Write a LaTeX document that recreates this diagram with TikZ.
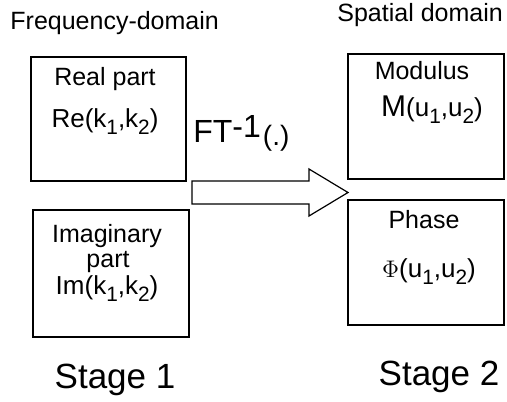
\documentclass[tikz,border=0pt]{standalone}
\usepackage{fontspec}
\usepackage{graphicx}
\setmainfont{Liberation Sans}
\usetikzlibrary{fit}

% lowered, reduced index as in k1, u2
\newcommand\lowsub[1]{\raisebox{-0.28em}{\scalebox{0.8}{#1}}}

\begin{document}
\begin{tikzpicture}[x=0.5pt,y=-0.5pt,
  box/.style={draw=black, line width=0.65pt, inner sep=0pt},
  lbl/.style={anchor=base, inner sep=0pt, font=\fontsize{12.5pt}{14pt}\selectfont},
  expr/.style={anchor=base, inner sep=0pt, font=\fontsize{13pt}{15pt}\selectfont},
  head/.style={inner sep=0pt, font=\fontsize{12.5pt}{15pt}\selectfont},
  stage/.style={anchor=base, inner sep=0pt, font=\fontsize{17.5pt}{20pt}\selectfont}]
\useasboundingbox (0,0) rectangle (507,401);

% section headings
\node[head, anchor=base west] (fdom) at (10,30) {Frequency-domain};
\node[head, anchor=base west] (sdom) at (337,22) {Spatial domain};

% stage 1 boxes
\node[box, fit={(31,57) (186,181)}] (re) {};
\node[box, fit={(33,210) (189,337)}] (im) {};
% stage 2 boxes
\node[box, fit={(348,54) (504,179)}] (mod) {};
\node[box, fit={(348,200) (504,325)}] (ph) {};

% box contents
\node[lbl] (retitle) at (105,85) {Real part};
\node[expr] (reexpr) at (105,127) {Re(k\lowsub{1},k\lowsub{2})};
\node[lbl] (imtitle) at (107,242) {Imaginary};
\node[lbl] (imtitle2) at (108,267) {part};
\node[expr] (imexpr) at (107,294) {Im(k\lowsub{1},k\lowsub{2})};
\node[lbl] (modtitle) at (422,79) {Modulus};
\node[expr] (modexpr) at (432,116) {{\fontsize{15pt}{16pt}\selectfont M}(u\lowsub{1},u\lowsub{2})};
\node[lbl] (phtitle) at (424,228) {Phase};
\node[expr] (phexpr) at (429,277) {$\Phi$(u\lowsub{1},u\lowsub{2})};

% inverse transform label
\node[inner sep=0pt, anchor=base west] (ft) at (193,142)
  {\fontsize{16pt}{18pt}\selectfont FT\raisebox{2.5pt}{-1}\kern1pt\fontsize{14pt}{16pt}\selectfont\raisebox{-1.5pt}{(.)}};

% block arrow from stage 1 to stage 2
\coordinate (tail) at (192,192.5);
\coordinate (tip) at (348,192.5);
\draw[line width=0.6pt, fill=white]
  (tail) ++(0,-11.5) -- ++(117,0) -- ++(0,-12) -- (tip)
  -- ++(-39,23.5) -- ++(0,-12) -- ++(-117,0) -- cycle;

% stage captions
\node[stage] (st1) at (115,388) {Stage 1};
\node[stage] (st2) at (439,385) {Stage 2};
\end{tikzpicture}
\end{document}
